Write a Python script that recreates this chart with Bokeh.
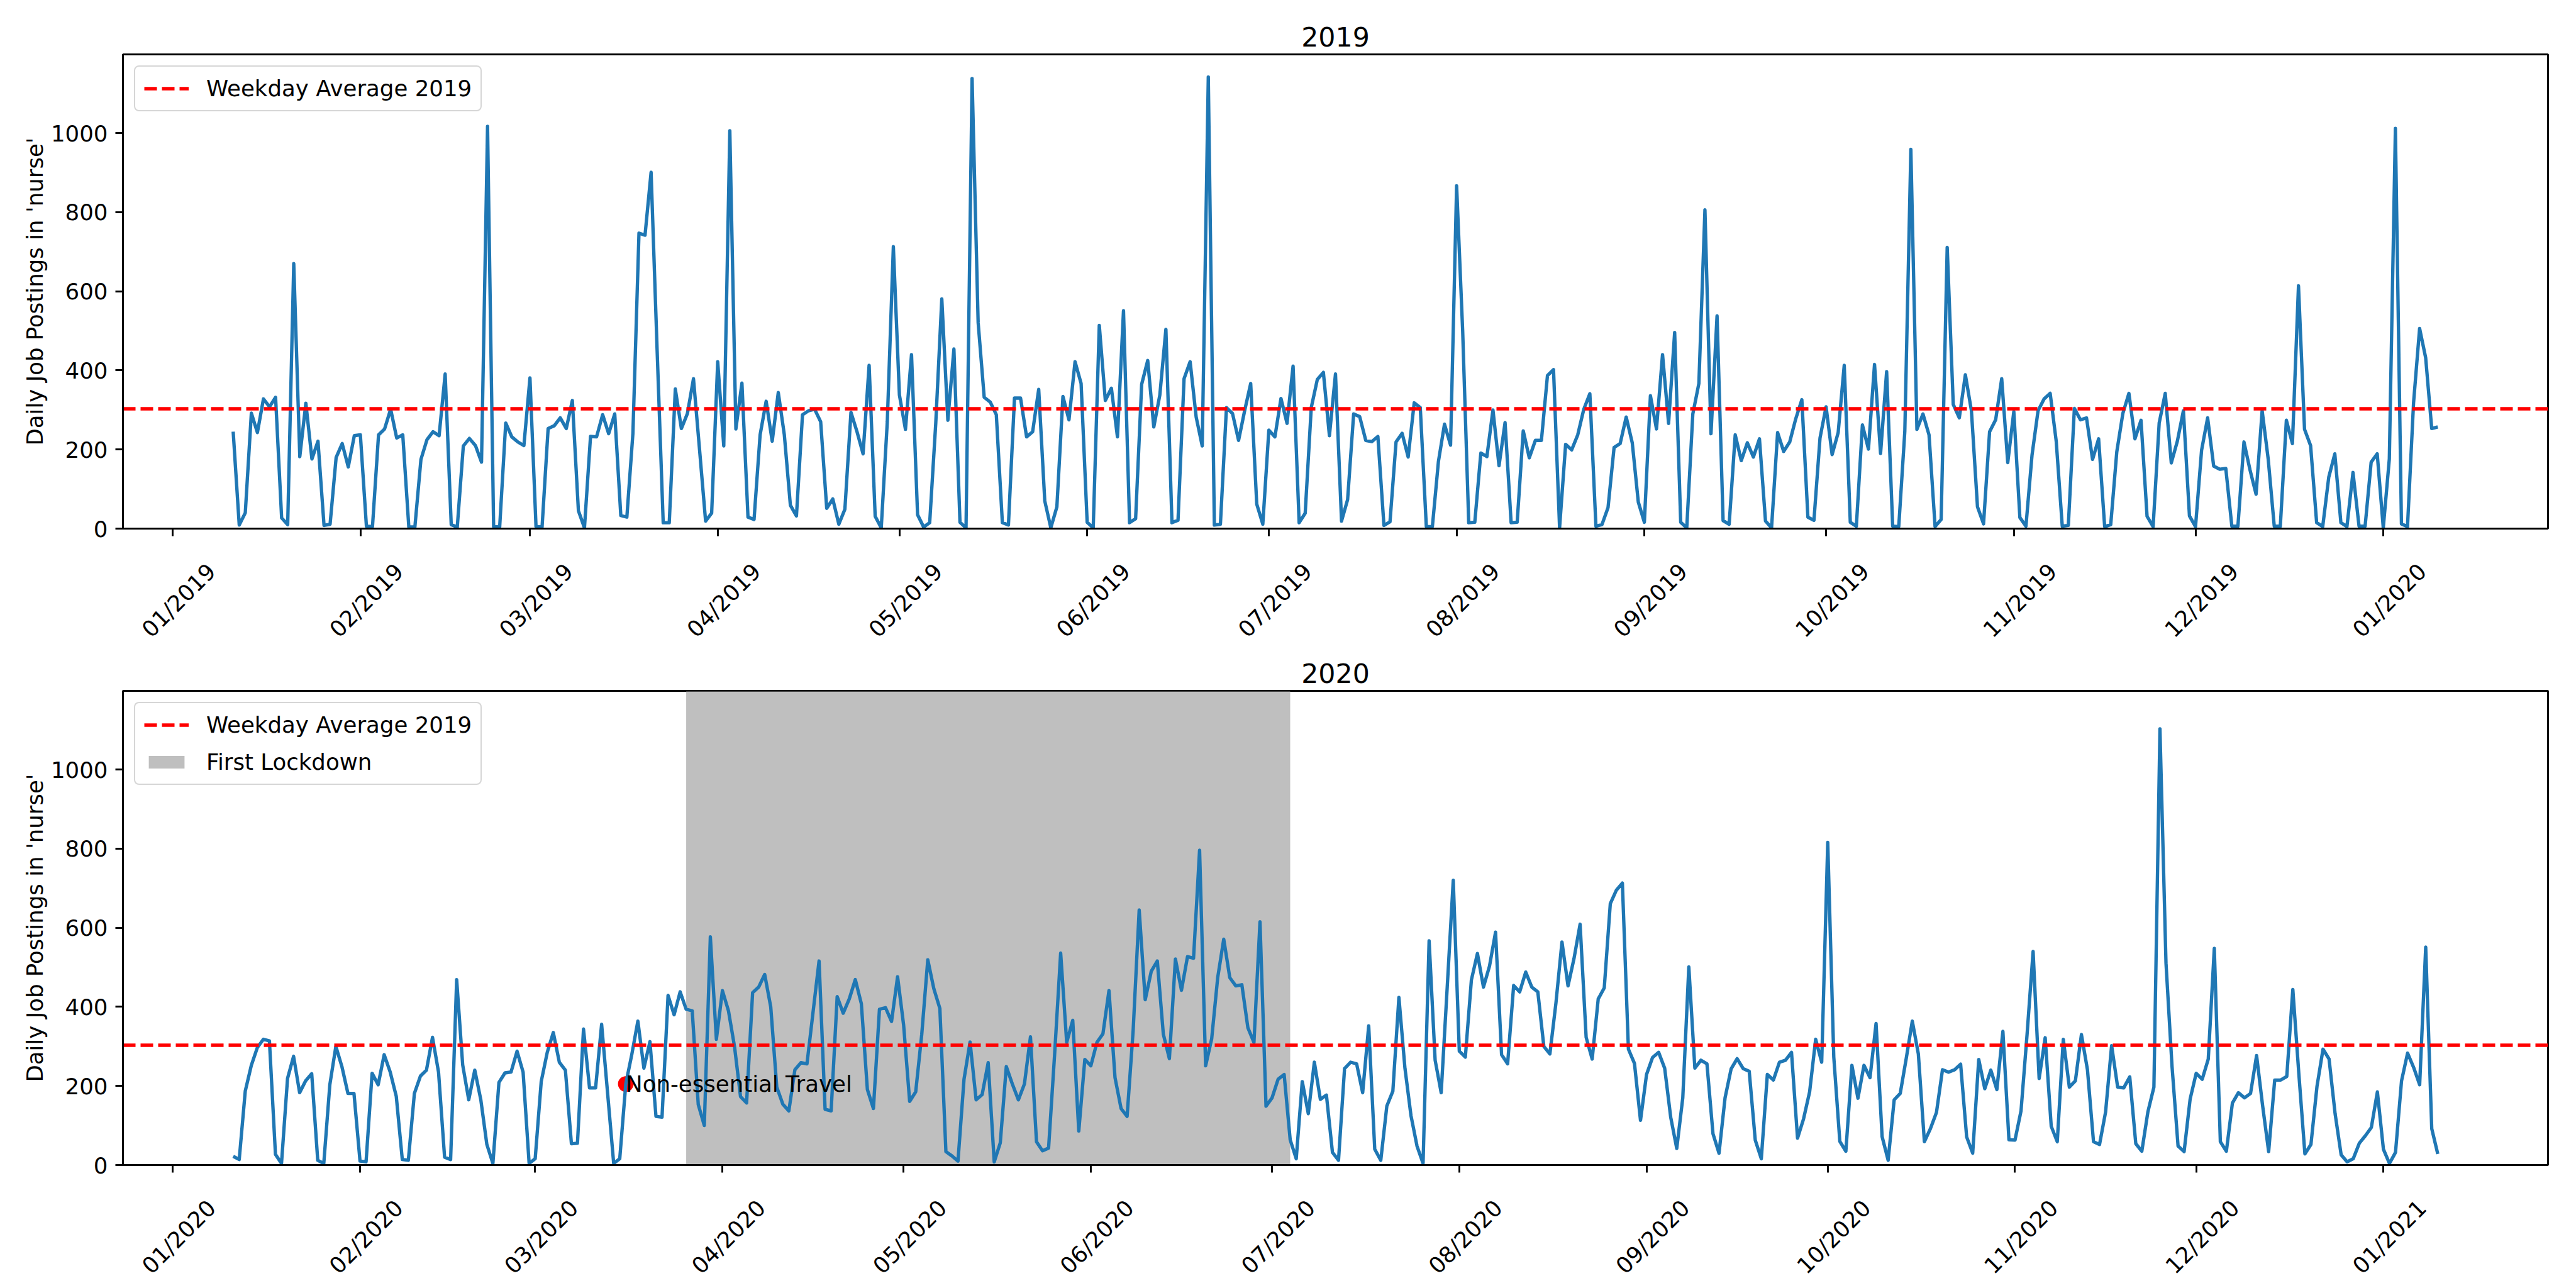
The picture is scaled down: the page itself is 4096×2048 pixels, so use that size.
import pandas as pd
from math import pi
from bokeh.plotting import figure
from bokeh.models import (Range1d, DatetimeTickFormatter, FixedTicker,
                          Legend, LegendItem)
from bokeh.layouts import column
from bokeh.embed import file_html
from bokeh.resources import INLINE
from bokeh.core.properties import value

# ---------------- data ----------------
start_2019 = "2019-01-11"
postings_2019 = [
    245, 9, 40, 292, 243, 328, 308, 332, 27, 10, 670, 182, 317, 176, 221, 8, 11, 180, 215, 156,
    235, 237, 6, 5, 237, 252, 302, 229, 237, 4, 4, 175, 225, 245, 235, 391, 10, 4, 209, 228,
    210, 168, 1017, 5, 4, 267, 232, 219, 210, 381, 5, 4, 253, 260, 280, 253, 324, 45, 2, 233,
    232, 288, 240, 290, 33, 29, 241, 747, 742, 901, 450, 15, 15, 353, 253, 291, 379, 200, 19, 39,
    422, 209, 1006, 252, 368, 29, 23, 237, 322, 221, 344, 237, 59, 32, 288, 298, 302, 270, 51, 75,
    11, 49, 294, 245, 189, 413, 31, 2, 270, 713, 338, 251, 440, 35, 4, 15, 266, 581, 274, 454,
    16, 2, 1138, 521, 332, 320, 288, 15, 9, 330, 330, 232, 245, 352, 70, 2, 55, 334, 275, 422,
    367, 16, 2, 514, 324, 355, 232, 551, 15, 25, 365, 425, 257, 338, 504, 15, 21, 379, 422, 282,
    209, 1142, 9, 11, 306, 291, 223, 298, 367, 62, 11, 249, 232, 329, 266, 411, 15, 39, 306, 377,
    395, 235, 391, 19, 73, 290, 283, 223, 220, 233, 8, 17, 219, 241, 181, 318, 306, 5, 5, 170,
    264, 211, 867, 500, 15, 16, 191, 182, 300, 159, 268, 15, 16, 247, 179, 223, 223, 387, 402, 2,
    213, 199, 237, 302, 341, 6, 10, 53, 205, 215, 282, 217, 67, 16, 336, 252, 440, 266, 496, 16,
    2, 290, 367, 806, 240, 538, 20, 11, 237, 172, 217, 181, 227, 19, 2, 243, 195, 219, 278, 326,
    29, 21, 229, 308, 187, 243, 413, 16, 6, 262, 201, 415, 190, 397, 6, 5, 245, 959, 251, 290,
    237, 5, 23, 711, 314, 280, 389, 298, 55, 12, 245, 275, 379, 167, 296, 28, 6, 185, 298, 328,
    342, 221, 6, 8, 304, 275, 280, 175, 227, 5, 10, 194, 291, 342, 227, 274, 31, 5, 267, 342,
    166, 221, 298, 32, 5, 198, 280, 158, 150, 152, 6, 6, 219, 148, 87, 298, 176, 6, 6, 274,
    215, 614, 251, 210, 15, 5, 130, 189, 15, 5, 142, 6, 6, 168, 189, 2, 176, 1012, 12, 5,
    318, 506, 432, 253, 257,
]

start_2020 = "2020-01-11"
postings_2020 = [
    22, 14, 187, 252, 297, 318, 314, 27, 4, 219, 275, 183, 213, 231, 12, 4, 203, 300, 249, 181,
    181, 10, 8, 232, 203, 279, 235, 174, 14, 12, 181, 225, 240, 323, 235, 20, 14, 469, 253, 165,
    240, 165, 52, 4, 209, 233, 235, 288, 235, 4, 16, 211, 285, 335, 260, 240, 54, 55, 344, 195,
    195, 356, 180, 4, 16, 205, 280, 364, 245, 312, 123, 121, 429, 380, 438, 394, 390, 153, 100, 577,
    318, 441, 390, 300, 173, 157, 436, 450, 482, 400, 197, 154, 137, 241, 259, 256, 386, 516, 141, 137,
    426, 384, 420, 469, 408, 191, 143, 394, 398, 363, 476, 354, 161, 185, 330, 519, 446, 396, 34, 23,
    10, 217, 311, 165, 178, 259, 8, 56, 249, 205, 165, 205, 324, 59, 36, 43, 280, 536, 310, 366,
    86, 267, 251, 310, 332, 441, 221, 143, 123, 340, 645, 418, 490, 516, 331, 269, 521, 442, 527, 523,
    796, 251, 319, 474, 571, 474, 453, 456, 347, 310, 615, 149, 170, 217, 229, 64, 16, 211, 130, 260,
    166, 177, 32, 12, 244, 260, 256, 183, 352, 40, 12, 149, 187, 424, 245, 125, 48, 4, 567, 265,
    183, 450, 720, 288, 273, 468, 535, 450, 503, 589, 279, 256, 454, 438, 488, 450, 438, 300, 281, 410,
    564, 453, 523, 609, 323, 268, 420, 448, 661, 695, 713, 293, 257, 113, 229, 272, 285, 245, 121, 42,
    170, 501, 245, 265, 256, 79, 30, 170, 243, 269, 244, 237, 63, 16, 229, 215, 260, 265, 285, 68,
    117, 185, 318, 260, 816, 273, 60, 35, 252, 169, 252, 221, 358, 72, 12, 165, 181, 270, 364, 281,
    59, 92, 133, 241, 235, 241, 255, 71, 30, 267, 193, 240, 191, 338, 64, 63, 137, 330, 540, 219,
    322, 98, 59, 318, 197, 213, 330, 241, 59, 52, 134, 302, 197, 195, 223, 54, 35, 134, 197, 1103,
    511, 250, 48, 34, 167, 232, 217, 268, 548, 59, 35, 157, 183, 170, 181, 277, 150, 34, 215, 215,
    224, 444, 230, 28, 52, 199, 293, 268, 130, 26, 8, 16, 55, 74, 95, 185, 40, 4, 32, 213,
    283, 247, 203, 551, 92, 28,
]

weekday_avg_2019 = 303
avg_label = "Weekday Average 2019"
lockdown_start = "2020-03-26"
lockdown_end = "2020-07-04"
lockdown_label = "First Lockdown"
event_date = "2020-03-16"
event_label = "Non-essential Travel"
titles = ["2019", "2020"]
y_label = "Daily Job Postings in 'nurse'"
y_ticks = [0, 200, 400, 600, 800, 1000]
tick_format = "%m/%Y"

# ---------------- style ----------------
PT = 256 / 72.0
FONT = "DejaVu Sans"
TICK_PX = "%.1fpx" % (10 * PT)
TITLE_PX = "%.1fpx" % (12 * PT)
LW = 1.5 * PT
SPINE = 0.8 * PT
TICK_LEN = 12
FW, FH = 3856, 754
BL, BR, BT = 195, 29, 86
BB_TOP_PANEL = 196
BB_BOTTOM_PANEL = 150
PANEL2_TOP = 1103          # wanted page y of the second frame's top edge
LABEL_SHIFT_PX = 62.0
LABEL_STANDOFF = 50

y_top = 1.05 * max(max(postings_2019), max(postings_2020))


def make_panel(title, start, vals, bb, lockdown=False, event=False):
    dates = pd.date_range(start, periods=len(vals), freq="D")
    span = dates[-1] - dates[0]
    x0 = dates[0] - 0.05 * span
    x1 = dates[-1] + 0.05 * span
    p = figure(x_axis_type="datetime", x_range=Range1d(x0, x1), y_range=Range1d(0, y_top),
               frame_width=FW, frame_height=FH,
               min_border_left=BL, min_border_right=BR, min_border_top=BT, min_border_bottom=bb,
               output_backend="svg", toolbar_location=None, tools="", title=title)
    p.background_fill_color = "white"
    p.outline_line_color = "black"
    p.outline_line_width = SPINE
    p.xgrid.visible = False
    p.ygrid.visible = False

    p.title.align = "center"
    p.title.text_font = FONT
    p.title.text_font_size = TITLE_PX
    p.title.text_font_style = "normal"
    p.title.text_color = "black"
    p.title.standoff = 25

    # x axis: tick marks at month starts (minor ticks), labels centred like matplotlib
    months = pd.date_range(x0.normalize(), x1, freq="MS")
    px_per_ms = FW / ((x1 - x0).total_seconds() * 1000.0)
    shift_ms = LABEL_SHIFT_PX / px_per_ms
    month_ms = [m.value / 1e6 for m in months]
    label_ticks = [t + shift_ms for t in month_ms]
    fmt = DatetimeTickFormatter(days=tick_format, months=tick_format, years=tick_format)
    try:
        fmt.strip_leading_zeros = False
    except Exception:
        pass
    ax = p.xaxis[0]
    ax.ticker = FixedTicker(ticks=label_ticks, minor_ticks=month_ms)
    ax.formatter = fmt
    ax.major_label_orientation = pi / 4
    ax.axis_line_width = SPINE
    ax.axis_line_color = "black"
    ax.major_tick_line_color = None
    ax.major_tick_out = TICK_LEN
    ax.major_tick_in = 0
    ax.minor_tick_line_color = "black"
    ax.minor_tick_line_width = SPINE
    ax.minor_tick_out = TICK_LEN
    ax.minor_tick_in = 0
    ax.major_label_standoff = LABEL_STANDOFF
    ax.major_label_text_font = FONT
    ax.major_label_text_font_size = TICK_PX
    ax.major_label_text_color = "black"

    ya = p.yaxis[0]
    ya.ticker = FixedTicker(ticks=y_ticks, minor_ticks=[])
    ya.major_tick_out = TICK_LEN
    ya.major_tick_in = 0
    ya.major_tick_line_width = SPINE
    ya.major_tick_line_color = "black"
    ya.axis_line_width = SPINE
    ya.axis_line_color = "black"
    ya.major_label_standoff = 12
    ya.major_label_text_font = FONT
    ya.major_label_text_font_size = TICK_PX
    ya.major_label_text_color = "black"
    ya.axis_label = y_label
    ya.axis_label_text_font = FONT
    ya.axis_label_text_font_size = TICK_PX
    ya.axis_label_text_font_style = "normal"
    ya.axis_label_text_color = "black"
    ya.axis_label_standoff = 2

    items = []
    r_lock = None
    if lockdown:
        r_lock = p.quad(left=[pd.Timestamp(lockdown_start)], right=[pd.Timestamp(lockdown_end)],
                        bottom=[0], top=[y_top], fill_color="grey", fill_alpha=0.5, line_color=None)
    if event:
        ev_x = pd.Timestamp(event_date)
        ev_y = vals[list(dates).index(ev_x)]
        p.scatter([ev_x], [ev_y], size=6 * PT, color="red", line_width=1.0 * PT)
    p.line(dates, vals, line_color="#1f77b4", line_width=LW, line_join="round")
    r_avg = p.line([x0, x1], [weekday_avg_2019, weekday_avg_2019], line_color="red",
                   line_width=LW, line_dash="20 8")
    if event:
        p.text(x=[ev_x], y=[ev_y], text=[event_label], text_font=value(FONT),
               text_font_size=TICK_PX, text_align="left", text_baseline="alphabetic",
               text_color="black")

    items.append(LegendItem(label=avg_label, renderers=[r_avg]))
    if r_lock is not None:
        items.append(LegendItem(label=lockdown_label, renderers=[r_lock]))
    leg = Legend(items=items, location="top_left")
    leg.label_text_font = FONT
    leg.label_text_font_size = TICK_PX
    leg.label_text_color = "black"
    leg.glyph_width = int(round(2.0 * 10 * PT))
    leg.glyph_height = int(round(0.7 * 10 * PT))
    leg.label_standoff = int(round(0.8 * 10 * PT))
    leg.spacing = int(round(0.5 * 10 * PT))
    leg.padding = int(round(0.4 * 10 * PT))
    leg.margin = int(round(0.5 * 10 * PT))
    leg.border_line_color = "#cccccc"
    leg.border_line_width = SPINE
    leg.border_line_alpha = 0.8
    leg.background_fill_alpha = 0.8
    leg.border_radius = 8
    p.add_layout(leg)
    return p


p1 = make_panel(titles[0], start_2019, postings_2019, BB_TOP_PANEL)
p1.border_fill_color = "white"
p2 = make_panel(titles[1], start_2020, postings_2020, BB_BOTTOM_PANEL, lockdown=True, event=True)
p2.border_fill_alpha = 0.0
p1_height = BT + FH + BB_TOP_PANEL
p2.margin = (PANEL2_TOP - 8 - p1_height - BT, 0, 0, 0)
layout = column(p1, p2, spacing=0)

open("out.html", "w").write(file_html(layout, INLINE))
